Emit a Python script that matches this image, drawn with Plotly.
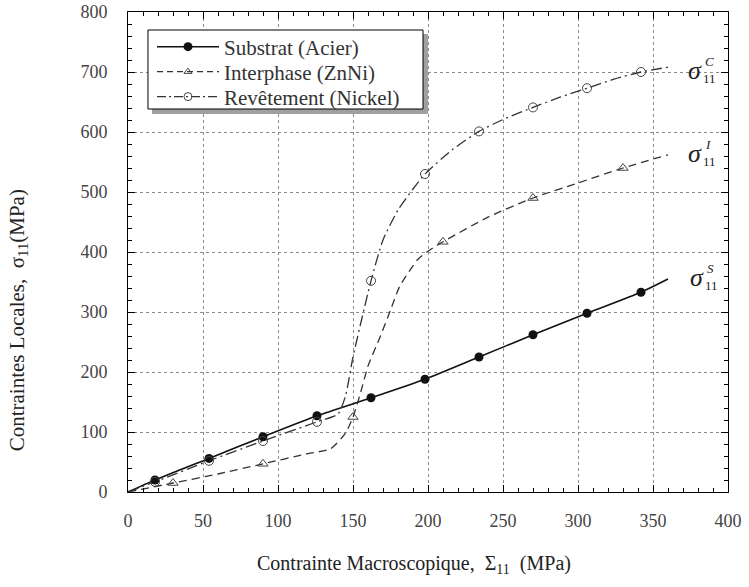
import plotly.graph_objects as go

# ---- data ----
# Substrat (Acier): smooth curve + markers
sub_x = [0, 18, 54, 90, 126, 162, 198, 234, 270, 306, 342, 360]
sub_y = [0, 20, 56, 92, 127, 157, 188, 225, 262, 298, 333, 355]
sub_mx = [18, 54, 90, 126, 162, 198, 234, 270, 306, 342]
sub_my = [20, 56, 92, 127, 157, 188, 225, 262, 298, 333]

# Interphase (ZnNi)
int_x = [0, 30, 60, 90, 120, 135, 145, 150, 155, 160, 168, 175, 181, 193, 201, 210, 240, 270, 300, 330, 360]
int_y = [0, 15, 30, 47, 64, 72, 98, 125, 165, 210, 258, 303, 342, 387, 403, 417, 458, 490, 515, 540, 562]
int_mx = [30, 90, 150, 210, 270, 330]
int_my = [15, 47, 125, 417, 490, 540]

# Revetement (Nickel)
rev_x = [0, 18, 54, 90, 126, 140, 145, 150, 156, 162, 170, 180, 190, 198, 216, 234, 252, 270, 288, 306, 324, 342, 360]
rev_y = [0, 17, 52, 85, 117, 130, 160, 225, 290, 352, 420, 470, 505, 530, 570, 601, 623, 641, 658, 673, 688, 700, 708]
rev_mx = [18, 54, 90, 126, 162, 198, 234, 270, 306, 342]
rev_my = [17, 52, 85, 117, 352, 530, 601, 641, 673, 700]

x_ticks = [0, 50, 100, 150, 200, 250, 300, 350, 400]
y_ticks = [0, 100, 200, 300, 400, 500, 600, 700, 800]

names = ["Substrat (Acier)", "Interphase (ZnNi)", "Revêtement (Nickel)"]

FONT = "Liberation Serif"
LC = "#333333"

fig = go.Figure()

# curves
fig.add_trace(go.Scatter(x=sub_x, y=sub_y, mode="lines", line=dict(color="#111111", width=1.6, shape="spline", smoothing=0.6), showlegend=False, hoverinfo="skip"))
fig.add_trace(go.Scatter(x=int_x, y=int_y, mode="lines", line=dict(color=LC, width=1.3, dash="8px,5px", shape="spline", smoothing=0.6), showlegend=False, hoverinfo="skip"))
fig.add_trace(go.Scatter(x=rev_x, y=rev_y, mode="lines", line=dict(color=LC, width=1.3, dash="11px,4px,2px,4px", shape="spline", smoothing=0.6), showlegend=False, hoverinfo="skip"))

# markers
fig.add_trace(go.Scatter(x=sub_mx, y=sub_my, mode="markers", marker=dict(symbol="circle", size=9, color="#111111"), showlegend=False))
fig.add_trace(go.Scatter(x=int_mx, y=int_my, mode="markers", marker=dict(symbol="triangle-up-open", size=9, color="#444444", line=dict(width=1)), showlegend=False))
fig.add_trace(go.Scatter(x=rev_mx, y=rev_my, mode="markers", marker=dict(symbol="circle-open", size=9, color="#444444", line=dict(width=1)), showlegend=False))

# legend entries (one legend per row for exact spacing)
fig.add_trace(go.Scatter(x=[None], y=[None], mode="lines+markers", name=names[0], legend="legend",
                         line=dict(color="#111111", width=1.6), marker=dict(symbol="circle", size=9, color="#111111")))
fig.add_trace(go.Scatter(x=[None], y=[None], mode="lines+markers", name=names[1], legend="legend2",
                         line=dict(color=LC, width=1.2, dash="6px,4px"), marker=dict(symbol="triangle-up-open", size=7, color="#444444")))
fig.add_trace(go.Scatter(x=[None], y=[None], mode="lines+markers", name=names[2], legend="legend3",
                         line=dict(color=LC, width=1.2, dash="9px,3px,2px,3px"), marker=dict(symbol="circle-open", size=8, color="#444444")))

axis_common = dict(
    showline=True, linecolor="black", linewidth=1, mirror="allticks",
    ticks="inside", ticklen=7, tickcolor="black", tickwidth=1,
    showgrid=True, gridcolor="#8c8c8c", griddash="3px,3px", gridwidth=1,
    zeroline=False, tickfont=dict(family=FONT, size=18, color="#444444"),
    automargin=False,
)

fig.update_xaxes(range=[0, 400], tickvals=x_ticks, ticktext=[str(v) for v in x_ticks],
                 minor=dict(dtick=10, ticks="inside", ticklen=4, tickcolor="black", showgrid=False),
                 ticklabelstandoff=12, **axis_common)
fig.update_yaxes(range=[0, 800], tickvals=y_ticks, ticktext=[str(v) for v in y_ticks],
                 minor=dict(dtick=20, ticks="inside", ticklen=4, tickcolor="black", showgrid=False),
                 ticklabelstandoff=16, **axis_common)

# axis titles
fig.add_annotation(xref="paper", yref="paper", x=0.477, y=-0.152, showarrow=False,
                   xanchor="center", yanchor="middle",
                   text="Contrainte Macroscopique,  Σ<sub>11</sub>  (MPa)",
                   font=dict(family=FONT, size=20, color="#222222"))
fig.add_annotation(xref="paper", yref="paper", x=-0.183, y=0.358, showarrow=False,
                   xanchor="center", yanchor="middle", textangle=-90,
                   text="Contraintes Locales,  σ<sub>11</sub>(MPa)",
                   font=dict(family=FONT, size=21, color="#222222"))

# curve labels
lab_x = [372, 372, 373]
lab_y = [703, 565, 357]
lab_sup = ["C", "I", "S"]
for lx, ly, sp in zip(lab_x, lab_y, lab_sup):
    fig.add_annotation(x=lx, y=ly, text="<i>σ</i>", showarrow=False, xanchor="left", yanchor="middle",
                       font=dict(family=FONT, size=26, color="#222222"))
    fig.add_annotation(x=lx, y=ly, text="11", showarrow=False, xanchor="left", yanchor="middle",
                       xshift=15, yshift=-8, font=dict(family=FONT, size=13, color="#222222"))
    fig.add_annotation(x=lx, y=ly, text="<i>%s</i>" % sp, showarrow=False, xanchor="left", yanchor="middle",
                       xshift=17, yshift=9, font=dict(family=FONT, size=13, color="#222222"))

# legend frame with shadow
fig.add_shape(type="rect", xref="paper", yref="paper", x0=0.040, x1=0.500, y0=0.7875, y1=0.9542,
              fillcolor="#a0a0a0", line=dict(width=0), layer="above")
fig.add_shape(type="rect", xref="paper", yref="paper", x0=0.0333, x1=0.4917, y0=0.7979, y1=0.9625,
              fillcolor="white", line=dict(width=1, color="black"), layer="above")

leg_common = dict(x=0.040, xanchor="left", yanchor="middle", bgcolor="rgba(0,0,0,0)", borderwidth=0,
                  font=dict(family=FONT, size=21, color="#333333"), itemwidth=62)
fig.update_layout(
    width=749, height=587,
    margin=dict(l=128, r=21, t=12, b=95),
    paper_bgcolor="white", plot_bgcolor="white",
    font=dict(family=FONT),
    legend=dict(y=0.927, **leg_common),
    legend2=dict(y=0.875, **leg_common),
    legend3=dict(y=0.823, **leg_common),
    showlegend=True,
)

fig.write_html("out.html", post_script="document.body.style.margin='0px';",
               config={"displayModeBar": False})
